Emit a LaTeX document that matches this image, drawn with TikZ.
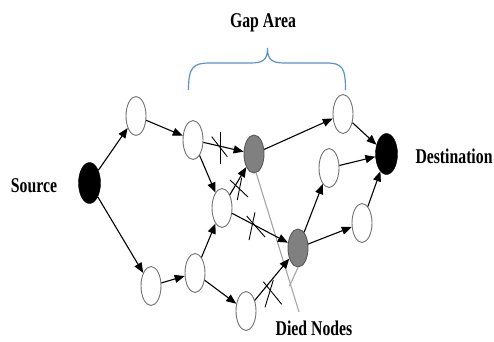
\documentclass[tikz,border=0pt]{standalone}
\usepackage{fontspec}
\setmainfont{Liberation Serif}
\usetikzlibrary{arrows.meta,shapes.geometric}
\definecolor{bracecol}{RGB}{91,145,205}
\definecolor{deadfill}{RGB}{128,128,128}
\definecolor{ptrcol}{RGB}{165,165,165}
\begin{document}
\begin{tikzpicture}[x=1pt,y=-1pt,
  wnode/.style={ellipse,draw=black!55,line width=0.9pt,fill=white,minimum width=20pt,minimum height=39pt,inner sep=0pt},
  dnode/.style={ellipse,draw=black!65,line width=0.9pt,fill=deadfill,minimum width=20pt,minimum height=38pt,inner sep=0pt},
  bnode/.style={ellipse,draw=black,fill=black,minimum width=22pt,minimum height=41pt,inner sep=0pt},
  edge/.style={line width=1.1pt,-{Triangle[length=10pt,width=8pt]}},
  cutmark/.style={line width=0.9pt},
  ptr/.style={draw=ptrcol,line width=1.1pt},
  lbl/.style={font=\bfseries\fontsize{21}{24}\selectfont,inner sep=0pt}
]
\useasboundingbox (0,0) rectangle (494,341);
\fill[white] (0,0) rectangle (494,341);

% nodes
\node[bnode] (src) at (89.5,183) {};
\node[bnode] (dst) at (386.5,154) {};
\node[wnode] (a) at (136,116) {};
\node[wnode] (b) at (193,140) {};
\node[wnode] (c) at (222,208) {};
\node[wnode] (d) at (151,286) {};
\node[wnode] (e) at (195,273) {};
\node[wnode] (f) at (246,311) {};
\node[wnode] (g) at (343,114) {};
\node[wnode] (h) at (329,168) {};
\node[wnode] (i) at (362,223) {};
\node[dnode] (x1) at (254,154) {};
\node[dnode] (x2) at (298,248) {};

% pointer lines to "Died Nodes"
\coordinate (pend) at (299,312);
\coordinate (pmid) at (289.5,286);
\draw[ptr] (x1.south) ++(2,-1) -- (pend);
\draw[ptr] (x2.south) -- (pmid);

% edges
\draw[edge] (src) -- (a);
\draw[edge] (src) -- (d);
\draw[edge] (a) -- (b);
\draw[edge] (b) -- (x1);
\draw[edge] (b) -- (c);
\draw[edge] (c) -- (x1);
\draw[edge] (c) -- (x2);
\draw[edge] (d) -- (e);
\draw[edge] (e) -- (c);
\draw[edge] (e) -- (f);
\draw[edge] (f) -- (x2);
\draw[edge] (x1) -- (g);
\draw[edge] (x2) -- (h);
\draw[edge] (x2) -- (i);
\draw[edge] (g) -- (dst);
\draw[edge] (h) -- (dst);
\draw[edge] (i) -- (dst);

% cut marks
\draw[cutmark] (220.7,132.3) -- (220.7,164.3);
\draw[cutmark] (211.7,136.7) -- (227.3,156.7);
\draw[cutmark] (241.7,177.7) -- (237.3,200);
\draw[cutmark] (230,180) -- (248,197);
\draw[cutmark] (255,212.3) -- (249,240);
\draw[cutmark] (246.7,216) -- (265,237);
\draw[cutmark] (273.3,280) -- (265,307.3);
\draw[cutmark] (263.3,281.7) -- (281.7,304.3);

% brace
\draw[bracecol,line width=1.2pt]
  (188.5,90) .. controls (188.5,67) and (193,63) .. (210,63)
  -- (250,63) .. controls (263,63) and (267.5,60) .. (267.5,48)
  .. controls (267.5,60) and (272,63) .. (285,63)
  -- (326,63) .. controls (342,63) and (345.5,67) .. (345.5,90);

% labels
\node[lbl] (lsrc) at (34,186) {\scalebox{0.75}[1]{Source}};
\node[lbl] (ldst) at (454,156) {\scalebox{0.75}[1]{Destination}};
\node[lbl] (lgap) at (263,23) {\scalebox{0.75}[1]{Gap Area}};
\node[lbl] (ldied) at (314,328) {\scalebox{0.75}[1]{Died Nodes}};
\end{tikzpicture}
\end{document}
